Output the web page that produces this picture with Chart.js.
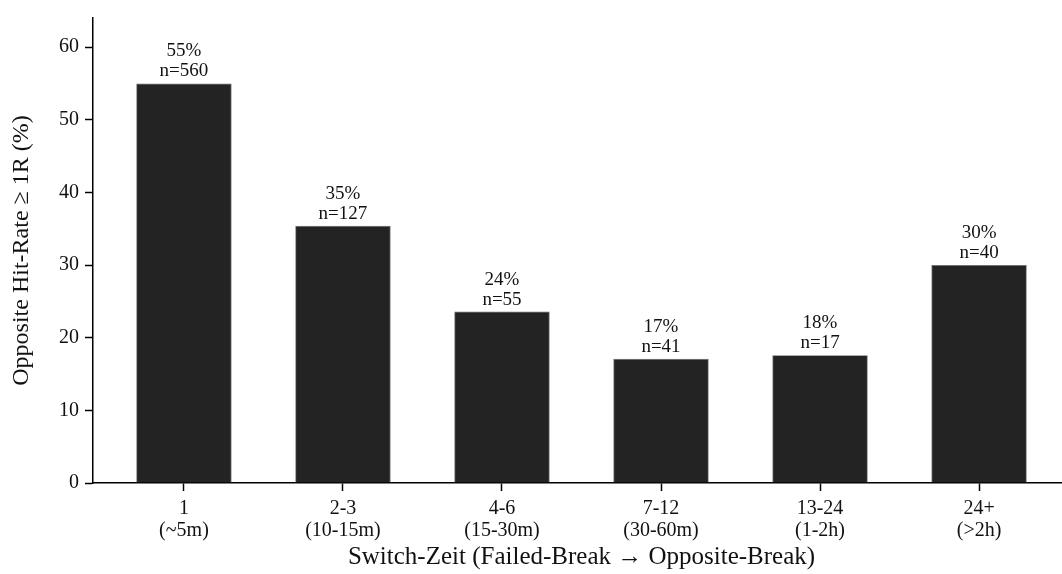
<!DOCTYPE html>
<html>
<head>
<meta charset="utf-8">
<script src="https://cdn.jsdelivr.net/npm/chart.js@4/dist/chart.umd.min.js"></script>
<style>
  html, body { margin: 0; padding: 0; background: #fff; overflow: hidden; }
  #wrap { width: 1080px; height: 574px; position: relative; }
</style>
</head>
<body>
<div id="wrap"><canvas id="chart"></canvas></div>
<script>
// bins of switch time (failed break -> opposite break)
const binLabels = ['1', '2-3', '4-6', '7-12', '13-24', '24+'];
const binTimes = ['(~5m)', '(10-15m)', '(15-30m)', '(30-60m)', '(1-2h)', '(>2h)'];
const hitRates = [55.0, 35.4, 23.6, 17.1, 17.6, 30.0];
const sampleSizes = [560, 127, 55, 41, 17, 40];
const yTicks = [0, 10, 20, 30, 40, 50, 60];

const serif = "'Liberation Serif', 'Times New Roman', serif";

// two line label over each bar: "55%" / "n=560"
const barLabels = {
    id: 'barLabels',
    afterDatasetsDraw(chart) {
        const ctx = chart.ctx;
        const meta = chart.getDatasetMeta(0);
        ctx.save();
        ctx.fillStyle = '#111';
        ctx.font = '19px ' + serif;
        ctx.textAlign = 'center';
        ctx.textBaseline = 'alphabetic';
        meta.data.forEach((bar, i) => {
            ctx.fillText('n=' + sampleSizes[i], bar.x, bar.y - 7);
            ctx.fillText(Math.round(hitRates[i]) + '%', bar.x, bar.y - 27);
        });
        ctx.restore();
    }
};

const points = hitRates.map((v, i) => ({ x: i, y: v }));

new Chart(document.getElementById('chart'), {
    type: 'bar',
    data: {
        datasets: [{
            data: points,
            backgroundColor: '#232323',
            borderColor: '#6a6a6a',
            borderWidth: 0.8,
            barPercentage: 0.6,
            categoryPercentage: 1.0,
        }]
    },
    options: {
        responsive: true,
        maintainAspectRatio: false,
        animation: false,
        layout: { padding: { top: 16, right: 10, left: 0, bottom: 0 } },
        plugins: {
            legend: { display: false },
            tooltip: { enabled: false },
        },
        scales: {
            x: {
                type: 'linear',
                offset: false,
                min: -0.572,
                max: 5.572,
                afterBuildTicks: (scale) => {
                    scale.ticks = binLabels.map((_, i) => ({ value: i }));
                },
                afterFit: (scale) => { scale.height = 91; },
                border: { display: true, color: '#000', width: 1.5 },
                grid: { offset: false, drawOnChartArea: false, drawTicks: true, tickLength: 8, tickColor: '#000', tickWidth: 1.5 },
                ticks: {
                    color: '#111',
                    font: { family: serif, size: 20, lineHeight: 1.1 },
                    padding: 7,
                    maxRotation: 0,
                    autoSkip: false,
                    callback: (value) => [binLabels[value], binTimes[value]],
                },
                title: {
                    display: true,
                    text: 'Switch-Zeit (Failed-Break \u2192 Opposite-Break)',
                    color: '#111',
                    font: { family: serif, size: 25 },
                    padding: { top: 2, bottom: 2 },
                },
            },
            y: {
                min: 0,
                max: 64,
                afterBuildTicks: (scale) => {
                    scale.ticks = yTicks.map(v => ({ value: v }));
                },
                afterFit: (scale) => { scale.width = 93; },
                border: { display: true, color: '#000', width: 1.5 },
                grid: { drawOnChartArea: false, drawTicks: true, tickLength: 8, tickColor: '#000', tickWidth: 1.5 },
                ticks: {
                    color: '#111',
                    font: { family: serif, size: 20 },
                    padding: 6,
                },
                title: {
                    display: true,
                    text: 'Opposite Hit-Rate \u2265 1R (%)',
                    color: '#111',
                    font: { family: serif, size: 24 },
                    padding: { top: 7, bottom: 4 },
                },
            }
        }
    },
    plugins: [barLabels]
});
</script>
</body>
</html>
